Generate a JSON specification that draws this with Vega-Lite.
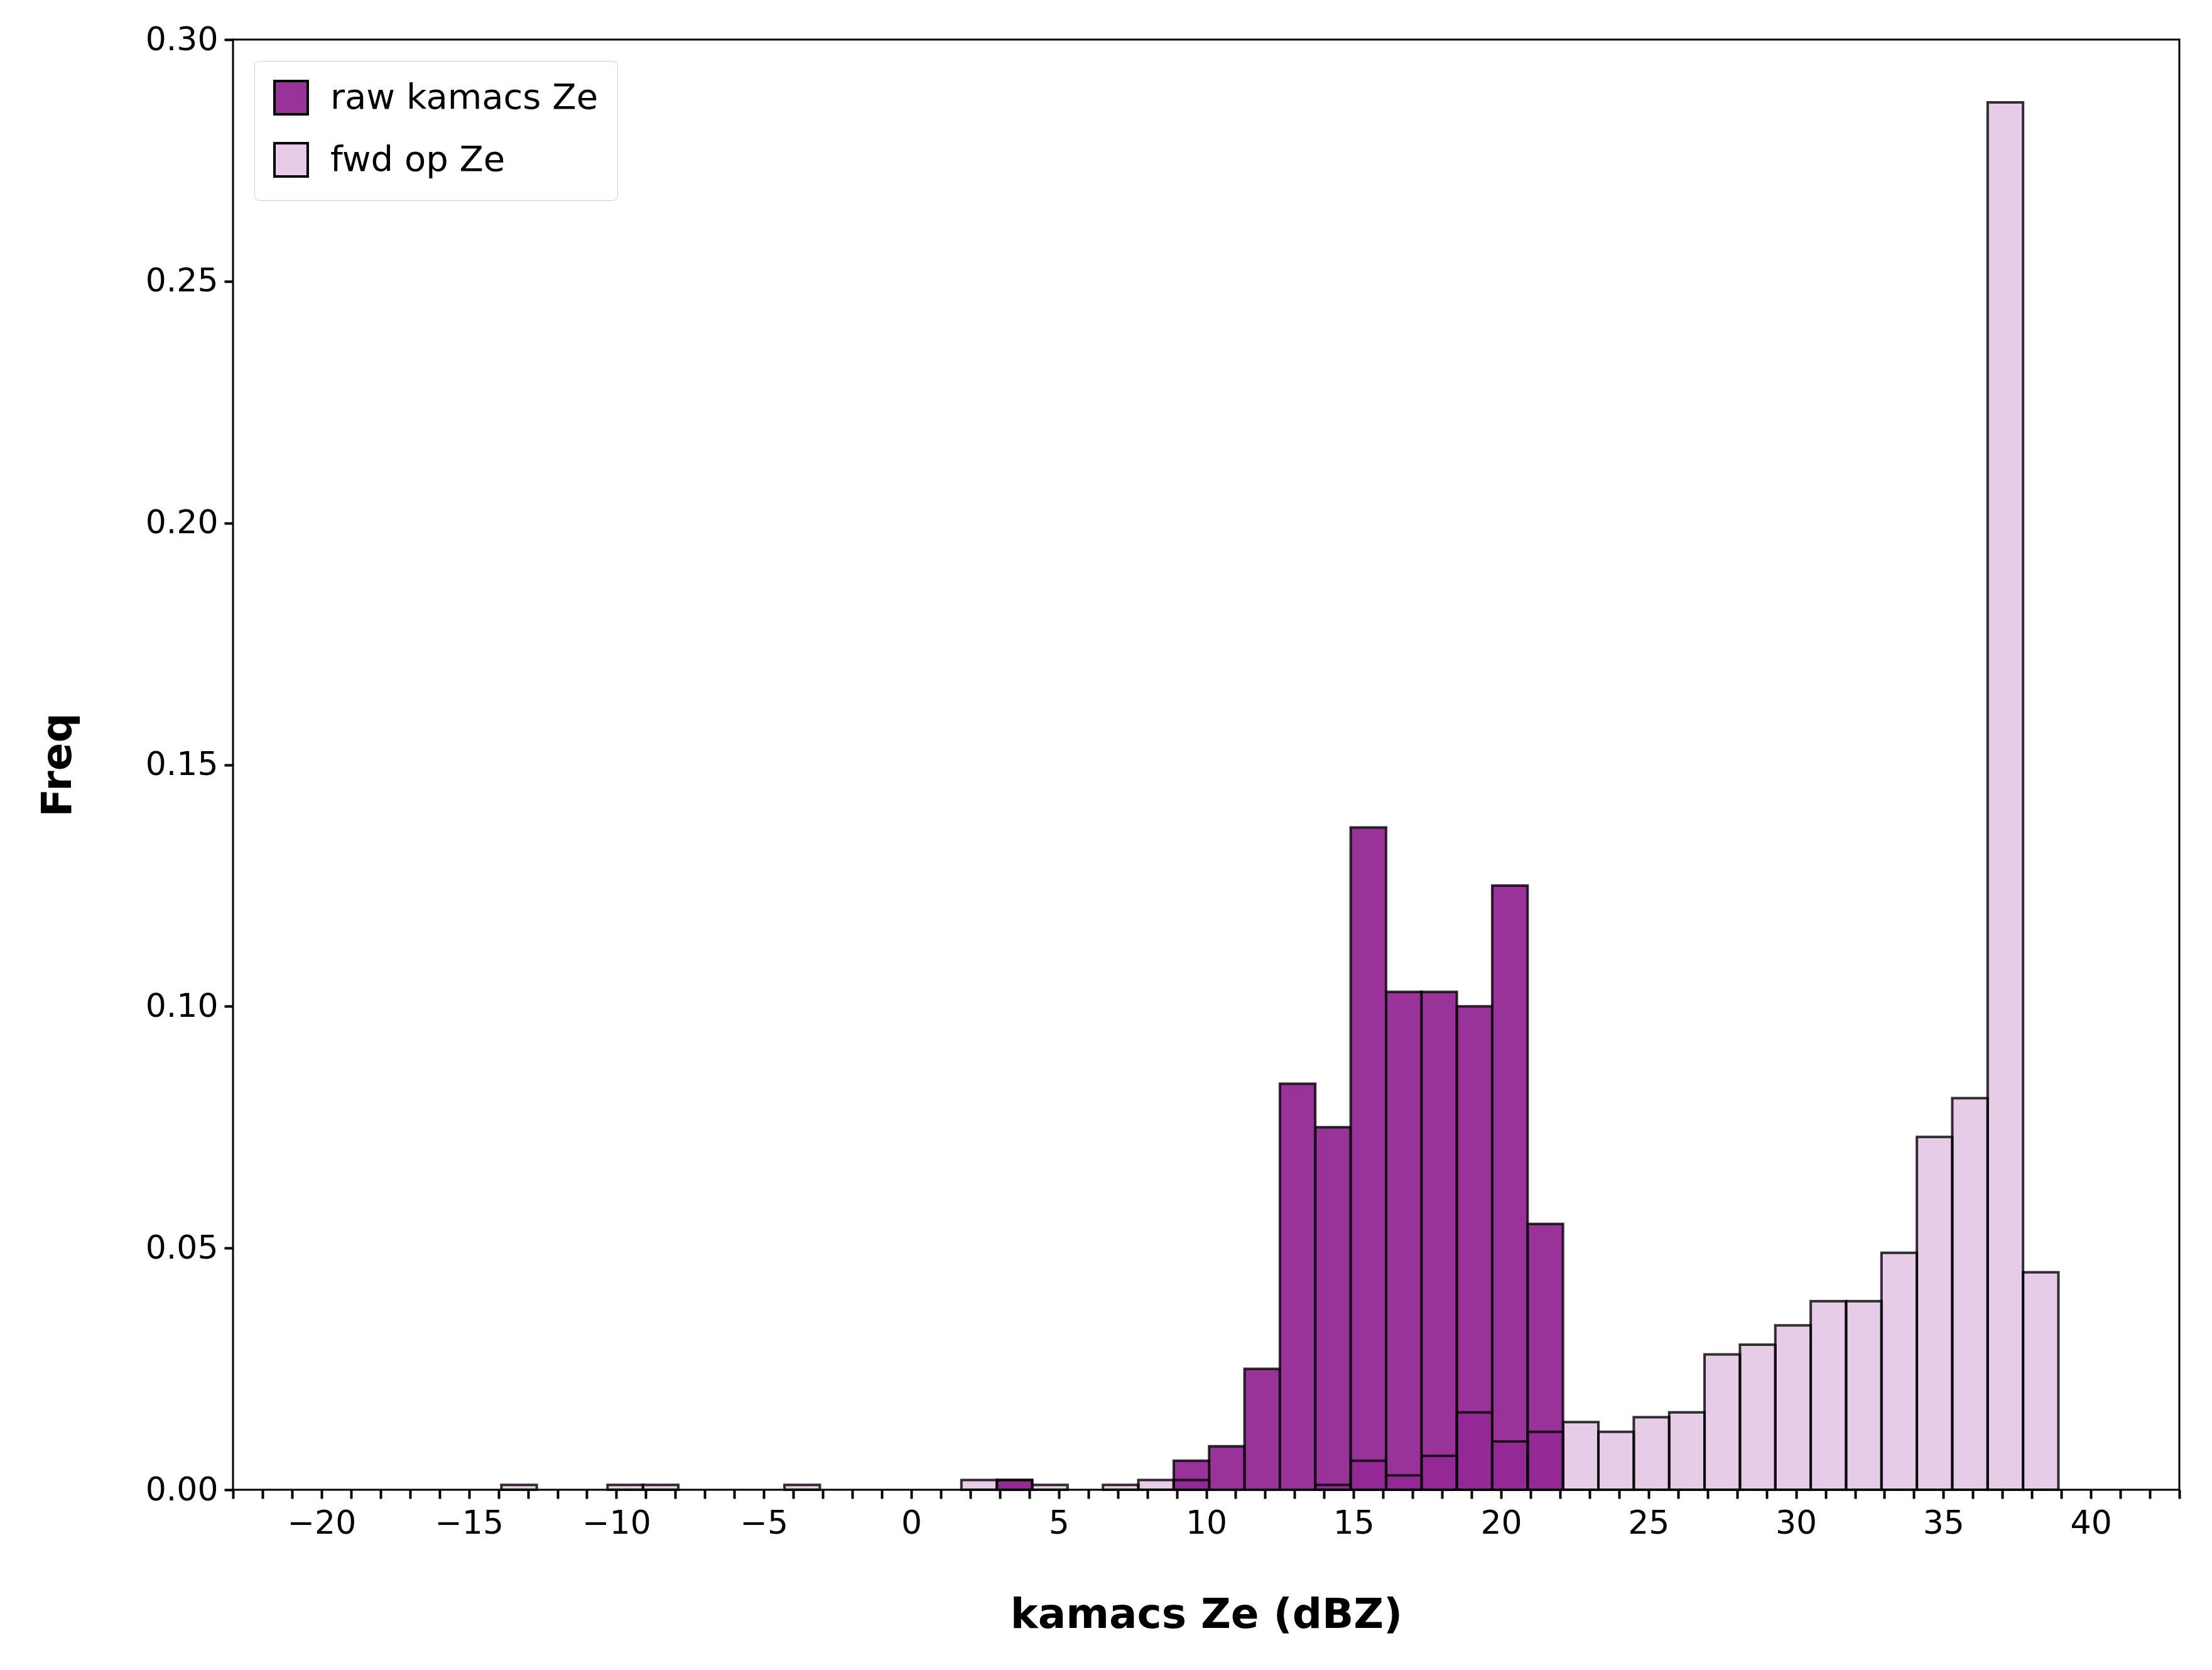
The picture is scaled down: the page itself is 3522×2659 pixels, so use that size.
{
  "$schema": "https://vega.github.io/schema/vega-lite/v6.json",
  "width": 3099,
  "height": 2309,
  "autosize": {"type": "none"},
  "padding": {"left": 371, "top": 63, "right": 52, "bottom": 287},
  "background": "white",
  "config": {
    "font": "DejaVu Sans",
    "view": {"stroke": "black", "strokeWidth": 3},
    "axis": {"grid": false, "domain": false, "labelFont": "DejaVu Sans", "labelFontSize": 52, "labelColor": "black", "tickColor": "black", "tickWidth": 4, "titleFont": "DejaVu Sans", "titleFontSize": 66, "titleFontWeight": "bold", "titleColor": "black"}
  },
  "data": {
    "values": [
      {"series": "raw kamacs Ze", "start": 2.9, "freq": 0.002},
      {"series": "raw kamacs Ze", "start": 8.9, "freq": 0.006},
      {"series": "raw kamacs Ze", "start": 10.1, "freq": 0.009},
      {"series": "raw kamacs Ze", "start": 11.3, "freq": 0.025},
      {"series": "raw kamacs Ze", "start": 12.5, "freq": 0.084},
      {"series": "raw kamacs Ze", "start": 13.7, "freq": 0.075},
      {"series": "raw kamacs Ze", "start": 14.9, "freq": 0.137},
      {"series": "raw kamacs Ze", "start": 16.1, "freq": 0.103},
      {"series": "raw kamacs Ze", "start": 17.3, "freq": 0.103},
      {"series": "raw kamacs Ze", "start": 18.5, "freq": 0.100},
      {"series": "raw kamacs Ze", "start": 19.7, "freq": 0.125},
      {"series": "raw kamacs Ze", "start": 20.9, "freq": 0.055},
      {"series": "fwd op Ze", "start": -13.9, "freq": 0.001},
      {"series": "fwd op Ze", "start": -10.3, "freq": 0.001},
      {"series": "fwd op Ze", "start": -9.1, "freq": 0.001},
      {"series": "fwd op Ze", "start": -4.3, "freq": 0.001},
      {"series": "fwd op Ze", "start": 1.7, "freq": 0.002},
      {"series": "fwd op Ze", "start": 2.9, "freq": 0.002},
      {"series": "fwd op Ze", "start": 4.1, "freq": 0.001},
      {"series": "fwd op Ze", "start": 6.5, "freq": 0.001},
      {"series": "fwd op Ze", "start": 7.7, "freq": 0.002},
      {"series": "fwd op Ze", "start": 8.9, "freq": 0.002},
      {"series": "fwd op Ze", "start": 13.7, "freq": 0.001},
      {"series": "fwd op Ze", "start": 14.9, "freq": 0.006},
      {"series": "fwd op Ze", "start": 16.1, "freq": 0.003},
      {"series": "fwd op Ze", "start": 17.3, "freq": 0.007},
      {"series": "fwd op Ze", "start": 18.5, "freq": 0.016},
      {"series": "fwd op Ze", "start": 19.7, "freq": 0.010},
      {"series": "fwd op Ze", "start": 20.9, "freq": 0.012},
      {"series": "fwd op Ze", "start": 22.1, "freq": 0.014},
      {"series": "fwd op Ze", "start": 23.3, "freq": 0.012},
      {"series": "fwd op Ze", "start": 24.5, "freq": 0.015},
      {"series": "fwd op Ze", "start": 25.7, "freq": 0.016},
      {"series": "fwd op Ze", "start": 26.9, "freq": 0.028},
      {"series": "fwd op Ze", "start": 28.1, "freq": 0.030},
      {"series": "fwd op Ze", "start": 29.3, "freq": 0.034},
      {"series": "fwd op Ze", "start": 30.5, "freq": 0.039},
      {"series": "fwd op Ze", "start": 31.7, "freq": 0.039},
      {"series": "fwd op Ze", "start": 32.9, "freq": 0.049},
      {"series": "fwd op Ze", "start": 34.1, "freq": 0.073},
      {"series": "fwd op Ze", "start": 35.3, "freq": 0.081},
      {"series": "fwd op Ze", "start": 36.5, "freq": 0.287},
      {"series": "fwd op Ze", "start": 37.7, "freq": 0.045}
    ]
  },
  "transform": [{"calculate": "datum.start + 1.2", "as": "end"}],
  "mark": {"type": "bar", "stroke": "black", "strokeOpacity": 0.8, "strokeWidth": 4},
  "encoding": {
    "x": {
      "field": "start", "type": "quantitative",
      "scale": {"domain": [-23, 43], "nice": false, "zero": false},
      "title": "kamacs Ze (dBZ)",
      "axis": {
        "values": [-23,-22,-21,-20,-19,-18,-17,-16,-15,-14,-13,-12,-11,-10,-9,-8,-7,-6,-5,-4,-3,-2,-1,0,1,2,3,4,5,6,7,8,9,10,11,12,13,14,15,16,17,18,19,20,21,22,23,24,25,26,27,28,29,30,31,32,33,34,35,36,37,38,39,40,41,42,43],
        "labelExpr": "datum.value % 5 == 0 ? replace(datum.label, '-', '\u2212') : ''",
        "tickSize": 14, "labelPadding": 14, "labelFlush": false, "titlePadding": 88
      }
    },
    "x2": {"field": "end"},
    "y": {
      "field": "freq", "type": "quantitative",
      "scale": {"domain": [0, 0.3], "nice": false},
      "title": "Freq",
      "axis": {"values": [0, 0.05, 0.1, 0.15, 0.2, 0.25, 0.3], "format": ".2f", "tickSize": 14, "labelPadding": 10, "titlePadding": 105}
    },
    "y2": {"datum": 0},
    "color": {
      "field": "series", "type": "nominal",
      "scale": {"domain": ["raw kamacs Ze", "fwd op Ze"], "range": ["rgba(128,0,128,0.8)", "rgba(128,0,128,0.2)"]},
      "legend": {
        "title": null, "orient": "top-left", "offset": 34, "symbolType": "square", "symbolSize": 2800,
        "symbolStrokeColor": "black", "symbolStrokeWidth": 4, "labelFontSize": 56, "labelColor": "black", "labelLimit": 1000,
        "rowPadding": 30, "labelOffset": 34, "padding": 30, "strokeColor": "#cccccc", "cornerRadius": 8, "fillColor": "white"
      }
    }
  }
}
